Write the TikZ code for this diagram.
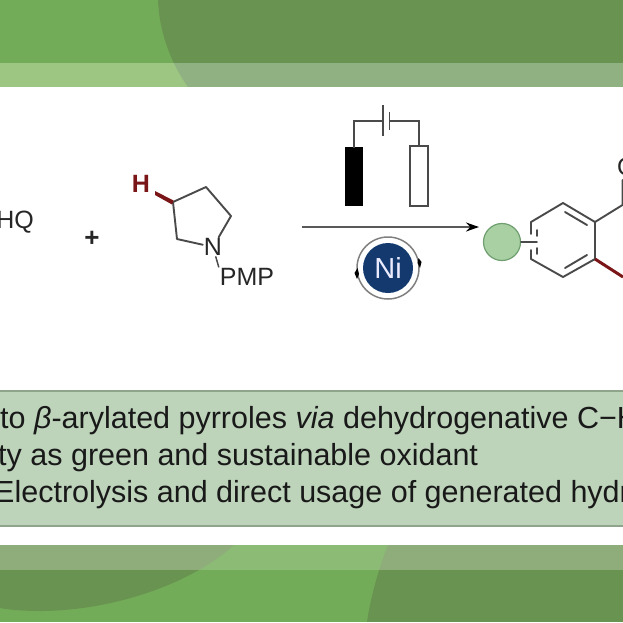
\documentclass[tikz,border=0pt]{standalone}
\usepackage{fontspec}
\usetikzlibrary{arrows.meta}
\setmainfont{Liberation Sans}
\definecolor{leafgreen}{HTML}{73AC58}
\definecolor{leafdark}{HTML}{699350}
\definecolor{bandlight}{HTML}{9CC682}
\definecolor{banddark}{HTML}{90B283}
\definecolor{lowlight}{HTML}{8BBB75}
\definecolor{lowdark}{HTML}{8FAD7B}
\definecolor{boxgreen}{HTML}{BDD4BA}
\definecolor{boxedge}{HTML}{8FA58B}
\definecolor{bonddark}{HTML}{4A4A4A}
\definecolor{bondred}{HTML}{7A1518}
\definecolor{nickelblue}{HTML}{13396F}
\definecolor{subgreen}{HTML}{A9D0A2}
\definecolor{subedge}{HTML}{6F9F70}
\tikzset{
  bondline/.style={line width=1.9pt, bonddark, line cap=round},
  wireline/.style={line width=1.5pt, bonddark},
  redbond/.style={line width=3pt, bondred},
  atomlabel/.style={font=\fontsize{25}{25}\selectfont, text=black!85, inner sep=1pt},
  summaryline/.style={font=\fontsize{30.5}{31}\selectfont, text=black!90, anchor=base west, inner sep=0pt},
}
\begin{document}
\begin{tikzpicture}[x=1pt, y=-1pt, >=stealth]
    \clip (0,0) rectangle (623,622);
    \fill[white] (0,0) rectangle (623,622);

    % 1. TOP BAND
    \fill[leafgreen] (0,0) rectangle (623,63);
    \fill[bandlight] (0,63) rectangle (623,87);
    \begin{scope}
        \clip (158,0) .. controls (159,30) and (170,62) .. (188,87) -- (623,87) -- (623,0) -- cycle;
        \fill[leafdark] (0,0) rectangle (623,63);
        \fill[banddark] (0,63) rectangle (623,87);
    \end{scope}

    % 2. BOTTOM BAND
    \fill[leafgreen] (0,570) rectangle (623,622);
    \fill[lowlight] (0,545) rectangle (623,570);
    \begin{scope}
        \clip (0,545) -- (234,545) .. controls (190,585) and (110,611) .. (40,611) .. controls (25,611) and (10,610) .. (0,608) -- cycle;
        \fill[leafdark] (0,570) rectangle (623,622);
        \fill[lowdark] (0,545) rectangle (623,570);
    \end{scope}
    \begin{scope}
        \clip (388,545) .. controls (378,570) and (370,600) .. (367,622) -- (623,622) -- (623,545) -- cycle;
        \fill[leafdark] (0,570) rectangle (623,622);
        \fill[lowdark] (0,545) rectangle (623,570);
    \end{scope}

    % 3. SUMMARY BOX
    \fill[boxgreen] (0,390) rectangle (623,527);
    \draw[boxedge, line width=2pt] (0,391) -- (623,391);
    \draw[boxedge, line width=1.5pt] (0,526) -- (623,526);
    \node[summaryline] (line_one) at (0,428) {to \textit{β}-arylated pyrroles \textit{via} dehydrogenative C−H};
    \node[summaryline] (line_two) at (-2,465) {ty as green and sustainable oxidant};
    \node[summaryline] (line_three) at (-6,502) {Electrolysis and direct usage of generated hydr};

    % 4. LEFT SUBSTRATE
    \node[atomlabel, anchor=east] (hq_label) at (35,222) {HQ};
    \node[font=\bfseries\fontsize{26}{26}\selectfont, text=black!85, inner sep=0pt] (plus_sign) at (92,239) {+};

    % 5. PYRROLIDINE
    \node[atomlabel] (nitrogen) at (213,247) {N};
    \node[atomlabel, anchor=north] (pmp_label) at (247,267) {PMP};
    \node[font=\bfseries\fontsize{25}{25}\selectfont, text=bondred, inner sep=1pt] (hydrogen) at (141,184) {H};
    \coordinate (c_three) at (173,202);
    \coordinate (c_four) at (206,187);
    \coordinate (c_five) at (231,216);
    \coordinate (c_two) at (177,239);
    \draw[bondline, line join=round] (nitrogen) -- (c_five) -- (c_four) -- (c_three) -- (c_two) -- (nitrogen);
    \draw[bondline, line width=1.5pt] (nitrogen) -- (pmp_label.north west);
    \fill[bondred] (c_three) ++(0.5,-1.5) -- (155,191) -- (155,195) -- (172,204.5) -- cycle;

    % 6. REACTION ARROW
    \coordinate (arrow_start) at (302,227);
    \coordinate (arrow_end) at (479,227);
    \draw[line width=2pt, black!65, -{Stealth[length=13pt, width=9pt, black]}] (arrow_start) -- (arrow_end);

    % 7. CELL
    \node[draw=black, fill=black, minimum width=17pt, minimum height=58pt, inner sep=0pt, outer sep=0pt] (anode) at (354,176.5) {};
    \node[draw=bonddark, line width=1.5pt, fill=white, minimum width=18pt, minimum height=60pt, inner sep=0pt, outer sep=0pt] (cathode) at (419,176) {};
    \coordinate (plate_long) at (383,121);
    \coordinate (plate_short) at (390,121);
    \draw[wireline] (anode.north) |- (plate_long);
    \draw[wireline] (cathode.north) |- (plate_short);
    \draw[wireline] (383,105) -- (383,136);
    \draw[wireline] (389.5,112) -- (389.5,130);

    % 8. NICKEL CYCLE
    \node[circle, fill=nickelblue, minimum size=50pt, inner sep=0pt, text=blue!8, font=\fontsize{29}{29}\selectfont] (nickel) at (388,268) {Ni};
    \draw[gray, line width=1.5pt] (nickel) circle (31);
    \fill[black] (418.5,258) -- (421.5,262) -- (420,268) -- (417.5,263) -- cycle;
    \fill[black] (357.5,268) -- (359,274) -- (357,279) -- (354.5,273) -- cycle;

    % 9. PRODUCT
    \node[circle, draw=subedge, fill=subgreen, line width=1.2pt, minimum size=37pt, inner sep=0pt] (substituent) at (502,242) {};
    \coordinate (ring_top) at (563,203);
    \coordinate (ring_ur) at (595,222);
    \coordinate (ring_lr) at (595,259);
    \coordinate (ring_bot) at (563,277);
    \coordinate (ring_ll) at (531,259);
    \coordinate (ring_ul) at (531,222);
    \coordinate (ring_in) at (537,242);
    \draw[bondline, line join=round] (ring_ul) -- (ring_top) -- (ring_ur) -- (ring_lr) -- (ring_bot) -- (ring_ll);
    \draw[bondline] (ring_ul) -- (531,234);
    \draw[bondline] (531,250) -- (ring_ll);
    \draw[bondline] (substituent) -- (ring_in);
    \draw[bondline] (537,230) -- (537,236);
    \draw[bondline] (537,248) -- (537,254);
    \draw[bondline] (565,212) -- (587,225);
    \draw[bondline] (565,268) -- (587,255);
    \coordinate (side_up) at (622.5,205);
    \coordinate (side_top) at (622.5,180);
    \coordinate (side_red) at (623,277);
    \draw[bondline, line join=round] (ring_ur) -- (side_up) -- (side_top);
    \draw[redbond] (ring_lr) -- (side_red);
    \node[atomlabel, anchor=west] (side_label) at (616,167) {O};

\end{tikzpicture}
\end{document}
